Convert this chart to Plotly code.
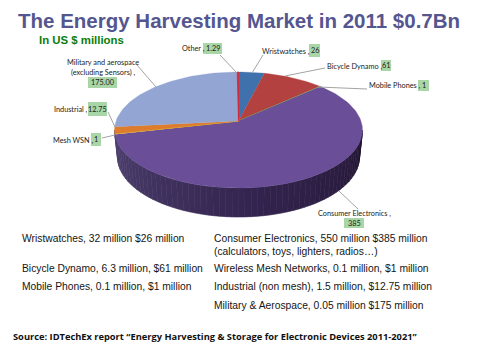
import numpy as np
import plotly.graph_objects as go

# ---- data (clockwise from 12 o'clock) ----
categories = ["Wristwatches", "Bicycle Dynamo", "Mobile Phones", "Consumer Electronics",
              "Mesh WSN", "Industrial", "Military and aerospace (excluding Sensors)", "Other"]
values = [26, 61, 1, 385, 1, 12.75, 175, 1.29]
value_labels = ["26", "61", "1", "385", "1", "12.75", "175.00", "1.29"]
colors = ["#3f72ad", "#b2413f", "#7fb24a", "#6a4e98", "#e3b52c", "#dc7c2c", "#92a5d3", "#d8222f"]

title_text = "The Energy Harvesting Market in 2011 $0.7Bn"
subtitle_text = "In US $ millions"
left_notes = ["Wristwatches, 32 million $26 million",
              "Bicycle Dynamo, 6.3 million, $61 million",
              "Mobile Phones, 0.1 million, $1 million"]
right_notes = ["Consumer Electronics, 550 million $385 million",
               "(calculators, toys, lighters, radios…)",
               "Wireless Mesh Networks, 0.1 million, $1 million",
               "Industrial (non mesh), 1.5 million, $12.75 million",
               "Military & Aerospace, 0.05 million $175 million"]
source_text = "Source: IDTechEx report “Energy Harvesting & Storage for Electronic Devices 2011-2021”"

# ---- pie projection (pixel-space axes) ----
CX, APEX_Y, A, S, K = 238.5, 121.0, 122.5, 56.6, 0.155


def project(theta):
    u, v = np.sin(theta), np.cos(theta)
    d = 1 + K * v
    return CX + A * u / d, APEX_Y - S * v / d


fig = go.Figure()

# side wall, drawn as shaded strips
TOP_CY, TOP_A, TOP_B = 130.0, 124.0, 58.0
BOT_CY, BOT_A, BOT_B = 157.0, 121.0, 60.0
phis = np.linspace(np.pi, 2 * np.pi, 61)
shade_stops = [0, 0.25, 0.55, 0.85, 1]
shade_r = [80, 66, 50, 42, 30]
shade_g = [66, 52, 36, 28, 20]
shade_b = [112, 96, 78, 62, 46]
for i in range(len(phis) - 1):
    p = np.array([phis[i], phis[i + 1]])
    f = (i + 0.5) / (len(phis) - 1)
    col = "rgb(%d,%d,%d)" % (np.interp(f, shade_stops, shade_r),
                             np.interp(f, shade_stops, shade_g),
                             np.interp(f, shade_stops, shade_b))
    xs = list(CX + TOP_A * np.cos(p)) + list(CX + BOT_A * np.cos(p[::-1]))
    ys = list(TOP_CY - TOP_B * np.sin(p)) + list(BOT_CY - BOT_B * np.sin(p[::-1]))
    fig.add_trace(go.Scatter(x=xs + xs[:1], y=ys + ys[:1], mode="lines", fill="toself",
                             fillcolor=col, line=dict(color=col, width=0.6),
                             hoverinfo="skip", showlegend=False))

# top face slices, angles computed from the values
total = sum(values)
edges = np.concatenate([[0], np.cumsum(values)]) / total * 2 * np.pi
for i, name in enumerate(categories):
    n = max(3, int((edges[i + 1] - edges[i]) / np.radians(1.5)))
    th = np.linspace(edges[i], edges[i + 1], n)
    ex, ey = project(th)
    xs = [CX] + list(ex) + [CX]
    ys = [APEX_Y] + list(ey) + [APEX_Y]
    thin = values[i] < 2
    fig.add_trace(go.Scatter(x=xs, y=ys, mode="lines", fill="toself", fillcolor=colors[i],
                             line=dict(color=colors[i], width=0.8 if thin else 0.3),
                             name=name, text=value_labels[i], hoverinfo="name+text",
                             showlegend=False))

# ---- label placement, by category index ----
text_pos = {0: (262, 51), 1: (327, 66), 2: (369, 85), 4: (53, 140), 5: (54, 109), 7: (182, 48.5)}
box_pos = {0: (309, 320, 44, 57), 1: (381, 391, 60, 71), 2: (418, 429, 80, 91), 3: (344, 364, 218, 228),
           4: (91, 101, 133, 146), 5: (88, 107, 102, 116), 6: (88, 117, 77, 88), 7: (203, 222, 43, 54)}
leader_end = {0: (263, 55), 1: (325, 68), 2: (367, 89), 3: (358, 209),
              4: (102, 138), 5: (108, 112), 6: (137, 65), 7: (220, 55)}
leader_start = {0: (252, 73), 1: (285, 76), 2: (318, 87), 3: (339, 191),
                4: (115, 135), 5: (115, 127), 6: (156, 87), 7: (237, 73)}

LABEL_FONT = dict(family="Lato, Open Sans, sans-serif", size=7.3, color="#222222")
NOTE_FONT = dict(family="Liberation Sans, Arial, sans-serif", size=10.3, color="#151515")

shapes, annos = [], []


def note(x, y, text, font, anchor="left"):
    annos.append(dict(x=x, y=y, text=text, showarrow=False, xanchor=anchor, yanchor="middle",
                      xref="x", yref="y", font=font, borderpad=0, borderwidth=0))


for i in range(len(categories)):
    x0, y0 = leader_start[i]
    x1, y1 = leader_end[i]
    shapes.append(dict(type="line", x0=x0, y0=y0, x1=x1, y1=y1, xref="x", yref="y",
                       line=dict(color="#a3a3a3", width=1), layer="above"))
    bx0, bx1, by0, by1 = box_pos[i]
    shapes.append(dict(type="rect", x0=bx0, x1=bx1, y0=by0, y1=by1, xref="x", yref="y",
                       fillcolor="#a9d6a6", line=dict(width=0), layer="above"))
    note((bx0 + bx1) / 2, (by0 + by1) / 2, value_labels[i], LABEL_FONT, "center")
    if i in text_pos:
        note(text_pos[i][0], text_pos[i][1], categories[i] + " ,", LABEL_FONT)

note(103, 62.5, "Military and aerospace", LABEL_FONT, "center")
note(103, 72, "(excluding Sensors) ,", LABEL_FONT, "center")
note(354, 213.5, "Consumer Electronics ,", LABEL_FONT, "center")

note(18, 20, title_text, dict(family="Liberation Sans, Arial, sans-serif", size=20.5, color="#54568f",
                              weight="bold"))
note(39, 40, subtitle_text, dict(family="Liberation Sans, Arial, sans-serif", size=11.4, color="#0b7d0b",
                                 weight="bold"))
for y, t in zip([238, 268, 286], left_notes):
    note(22, y, t, NOTE_FONT)
for y, t in zip([238, 251, 268, 286, 305], right_notes):
    note(214, y, t, NOTE_FONT)
note(13, 336, source_text, dict(family="Open Sans, sans-serif", size=9.3, color="#111111", weight="bold"))

fig.update_layout(
    width=493, height=351, autosize=False, margin=dict(l=0, r=0, t=0, b=0),
    paper_bgcolor="white", plot_bgcolor="white", showlegend=False,
    xaxis=dict(range=[0, 493], visible=False, fixedrange=True),
    yaxis=dict(range=[351, 0], visible=False, fixedrange=True),
    shapes=shapes, annotations=annos,
)
fig.write_html("out.html", config=dict(displayModeBar=False),
               post_script="document.body.style.margin='0';document.body.style.overflow='hidden';")
